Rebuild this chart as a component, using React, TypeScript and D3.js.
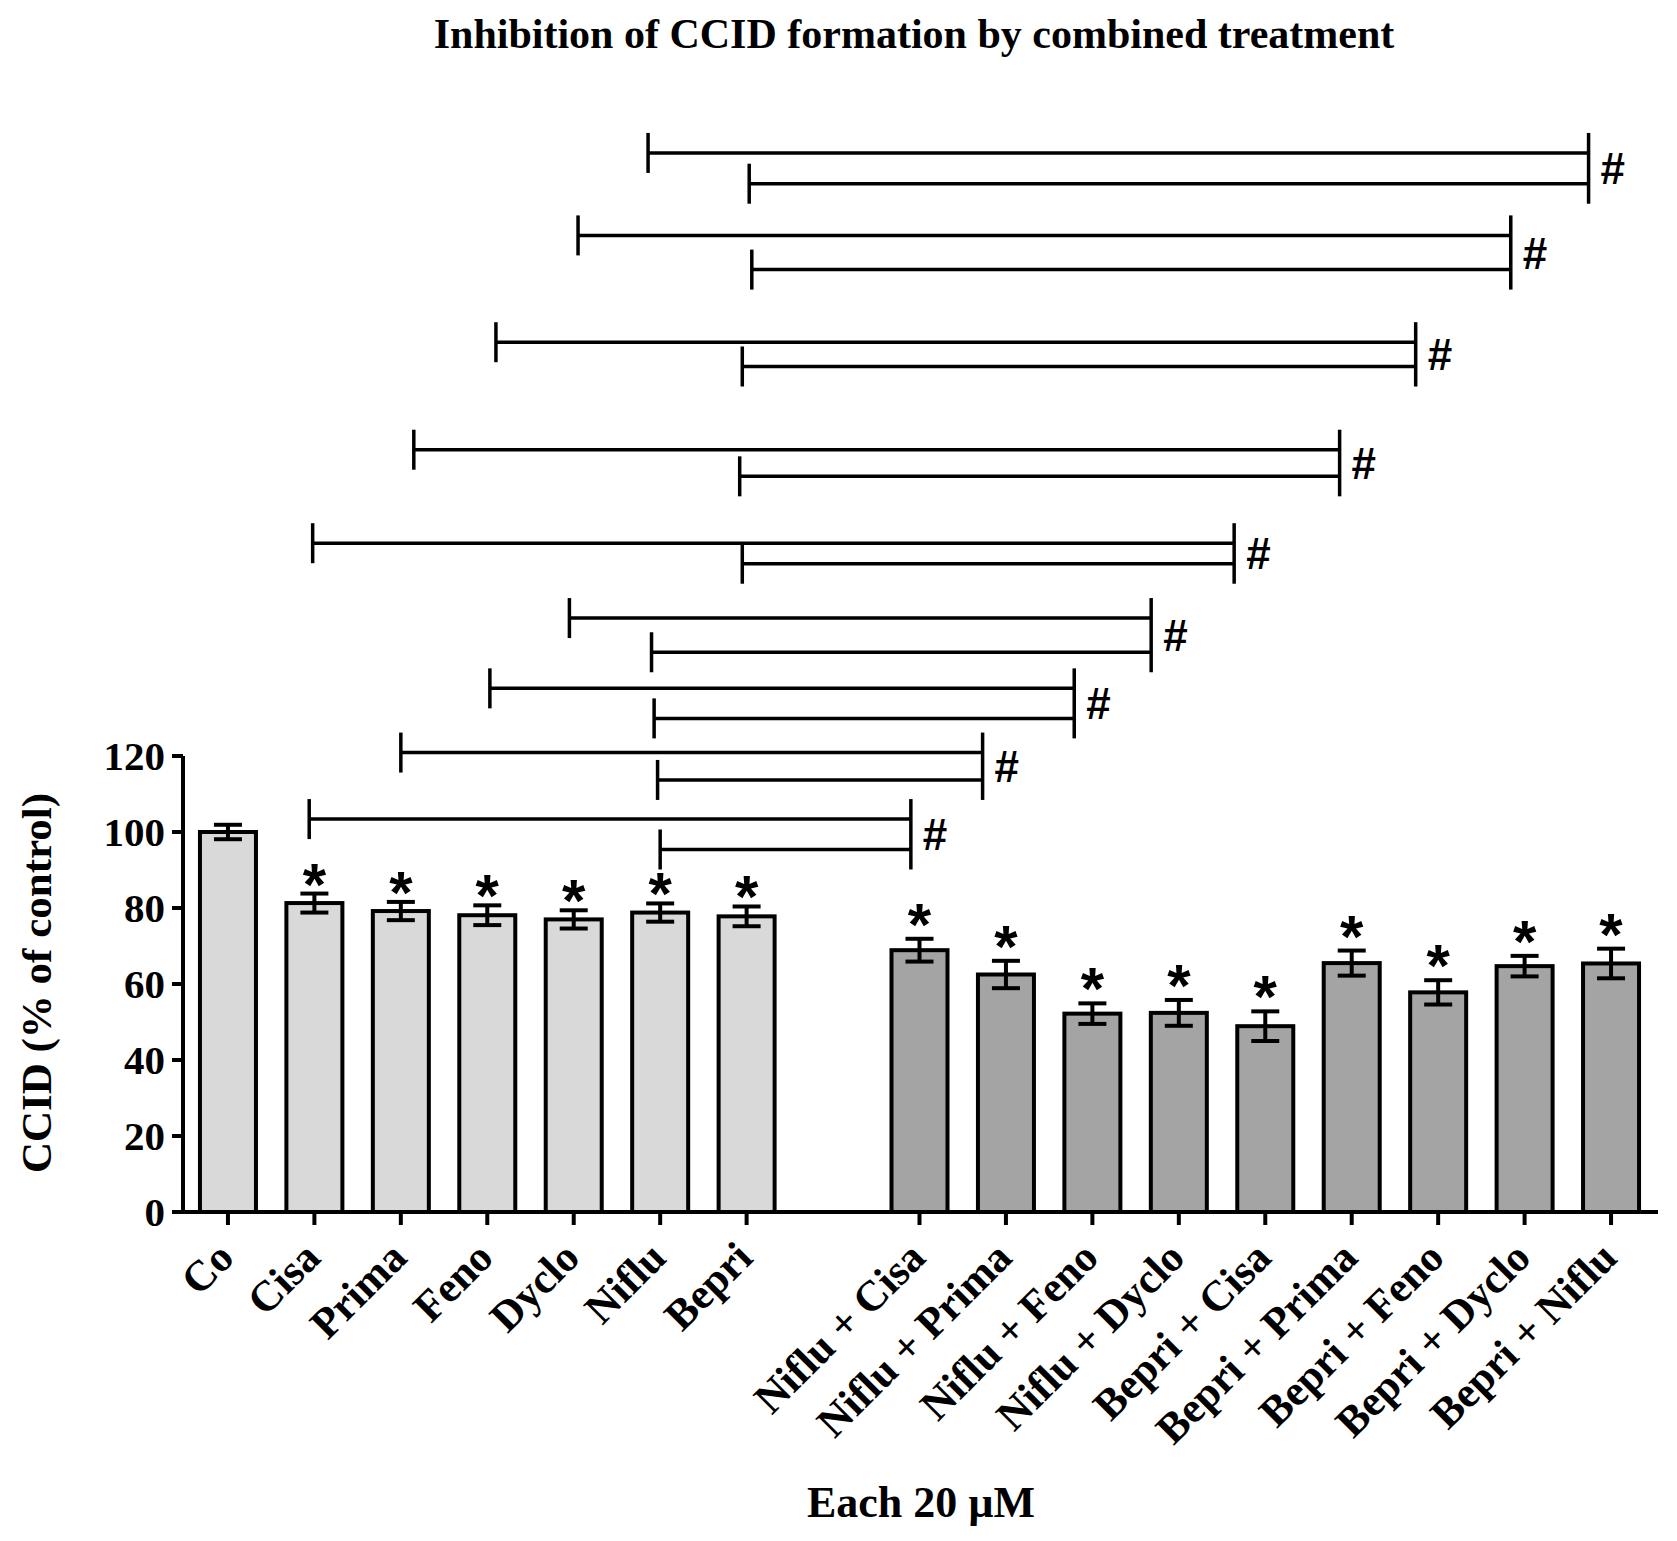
import React from "react";
import * as d3 from "d3";

const singleLabels = ["Co", "Cisa", "Prima", "Feno", "Dyclo", "Niflu", "Bepri"];
const singleMeans = [100, 81.3, 79.2, 78.1, 77.0, 78.8, 77.8];
const singleErrors = [1.9, 2.5, 2.4, 2.6, 2.4, 2.4, 2.6];
const singleStars = [false, true, true, true, true, true, true];

const comboLabels = [
  "Niflu + Cisa", "Niflu + Prima", "Niflu + Feno", "Niflu + Dyclo",
  "Bepri + Cisa", "Bepri + Prima", "Bepri + Feno", "Bepri + Dyclo", "Bepri + Niflu",
];
const comboMeans = [68.9, 62.5, 52.2, 52.4, 48.9, 65.5, 57.8, 64.7, 65.4];
const comboErrors = [3.0, 3.6, 2.7, 3.4, 3.9, 3.3, 3.2, 2.7, 3.9];
const comboStars = [true, true, true, true, true, true, true, true, true];

const yTicks = [0, 20, 40, 60, 80, 100, 120];

// significance brackets (# vs single treatments): positions in category-slot units, levels in % units
const bracketUpperStart = [0.94, 2.0, 3.03, 3.95, 0.98, 2.15, 3.1, 4.05, 4.86];
const bracketLowerStart = [5.0, 4.97, 4.93, 4.9, 5.95, 5.92, 5.95, 6.06, 6.03];
const bracketEnd = [7.9, 8.73, 9.79, 10.68, 11.64, 12.86, 13.74, 14.84, 15.74];
const bracketUpperLevel = [103.4, 120.9, 137.8, 156.3, 176.0, 200.6, 228.9, 257.0, 278.7];
const bracketLowerLevel = [95.4, 113.7, 129.9, 147.3, 170.6, 193.6, 222.5, 248.0, 270.6];

const title = "Inhibition of CCID formation by combined treatment";
const yLabel = "CCID (% of control)";
const xLabel = "Each 20 \u00b5M";

const W = 1677;
const H = 1541;
const serif = "'Liberation Serif', 'Times New Roman', serif";
const sans = "'Liberation Sans', Arial, sans-serif";

type Bar = { label: string; slot: string; mean: number; err: number; star: boolean; combo: boolean };

export default function App() {
  const slots = [...singleLabels, "__gap__", ...comboLabels];
  const x = d3.scalePoint<string>().domain(slots).range([183, 1656]).padding(0.52);
  const y = d3.scaleLinear().domain([0, 120]).range([1212, 756]);
  const pos = d3.scaleLinear().domain([0, slots.length - 1]).range([x(slots[0])!, x(slots[slots.length - 1])!]);

  const bars: Bar[] = [
    ...singleLabels.map((l, i) => ({ label: l, slot: l, mean: singleMeans[i], err: singleErrors[i], star: singleStars[i], combo: false })),
    ...comboLabels.map((l, i) => ({ label: l, slot: l, mean: comboMeans[i], err: comboErrors[i], star: comboStars[i], combo: true })),
  ];

  const bw = 56;
  const cap = 14;
  const tickLen = 20;

  return (
    <svg width={W} height={H} viewBox={`0 0 ${W} ${H}`} style={{ position: "absolute", left: 0, top: 0, background: "#fff" }}>
      <rect x={0} y={0} width={W} height={H} fill="#fff" />
      <text x={914} y={48} textAnchor="middle" fontFamily={serif} fontWeight="bold" fontSize={42} fill="#000">
        {title}
      </text>

      {/* bars */}
      {bars.map((b) => {
        const cx = x(b.slot)!;
        return (
          <g key={b.slot}>
            <rect x={cx - bw / 2} y={y(b.mean)} width={bw} height={y(0) - y(b.mean)} fill={b.combo ? "#a4a4a4" : "#d9d9d9"} stroke="#000" strokeWidth={4} />
            <line x1={cx} x2={cx} y1={y(b.mean - b.err)} y2={y(b.mean + b.err)} stroke="#000" strokeWidth={4} />
            <line x1={cx - cap} x2={cx + cap} y1={y(b.mean + b.err)} y2={y(b.mean + b.err)} stroke="#000" strokeWidth={4} />
            <line x1={cx - cap} x2={cx + cap} y1={y(b.mean - b.err)} y2={y(b.mean - b.err)} stroke="#000" strokeWidth={4} />
            {b.star && (
              <text x={cx} y={y(b.mean + b.err) + (b.combo ? 6 : 11)} textAnchor="middle" fontFamily={sans} fontWeight="bold" fontSize={60} fill="#000">
                *
              </text>
            )}
          </g>
        );
      })}

      {/* y axis */}
      <line x1={183} x2={183} y1={y(120)} y2={y(0) + 2} stroke="#000" strokeWidth={4} />
      {yTicks.map((t) => (
        <g key={t}>
          <line x1={172} x2={183} y1={y(t)} y2={y(t)} stroke="#000" strokeWidth={4} />
          <text x={165} y={y(t) + 14} textAnchor="end" fontFamily={serif} fontWeight="bold" fontSize={41} fill="#000">
            {t}
          </text>
        </g>
      ))}
      <text transform={`translate(51,983) rotate(-90)`} textAnchor="middle" fontFamily={serif} fontWeight="bold" fontSize={43} fill="#000">
        {yLabel}
      </text>

      {/* x axis */}
      <line x1={181} x2={1658} y1={y(0)} y2={y(0)} stroke="#000" strokeWidth={4} />
      {bars.map((b) => {
        const cx = x(b.slot)!;
        return (
          <g key={"t" + b.slot}>
            <line x1={cx} x2={cx} y1={y(0)} y2={y(0) + 13} stroke="#000" strokeWidth={4} />
            <text transform={`translate(${cx + 8},${1260}) rotate(-45)`} textAnchor="end" fontFamily={serif} fontWeight="bold" fontSize={43} fill="#000">
              {b.label}
            </text>
          </g>
        );
      })}
      <text x={921} y={1517} textAnchor="middle" fontFamily={serif} fontWeight="bold" fontSize={44} fill="#000">
        {xLabel}
      </text>

      {/* brackets */}
      {bracketEnd.map((e, i) => {
        const xr = pos(e);
        const xu = pos(bracketUpperStart[i]);
        const xl = pos(bracketLowerStart[i]);
        const yu = y(bracketUpperLevel[i]);
        const yl = y(bracketLowerLevel[i]);
        return (
          <g key={"b" + i} stroke="#000" strokeWidth={3.5}>
            <line x1={xu} x2={xr} y1={yu} y2={yu} />
            <line x1={xl} x2={xr} y1={yl} y2={yl} />
            <line x1={xu} x2={xu} y1={yu - tickLen} y2={yu + tickLen} />
            <line x1={xl} x2={xl} y1={yl - tickLen} y2={yl + tickLen} />
            <line x1={xr} x2={xr} y1={yu - tickLen} y2={yl + tickLen} />
            <text x={xr + 12} y={(yu + yl) / 2 + 16} stroke="none" fontFamily={sans} fontWeight="bold" fontSize={44} fill="#000">
              #
            </text>
          </g>
        );
      })}
    </svg>
  );
}
